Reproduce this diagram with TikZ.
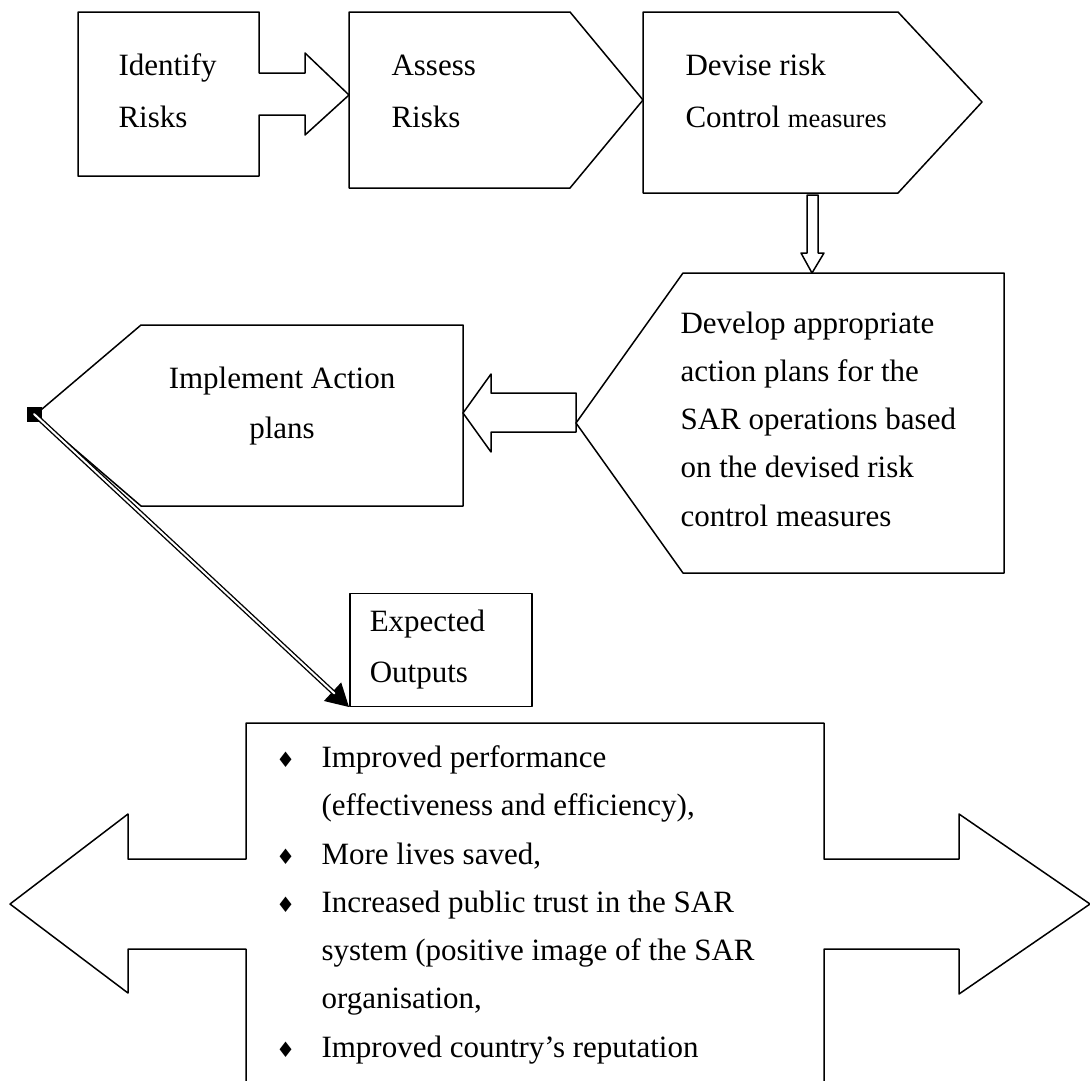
\documentclass[tikz,border=0pt]{standalone}
\usepackage{fontspec}
\setmainfont{Liberation Serif}
\newfontfamily\bulfont{DejaVu Sans}
\usepackage{tikz}
\usetikzlibrary{arrows.meta}
\newcommand{\bul}{\makebox[0pt][r]{{\bulfont\fontsize{8.5}{8.5}\selectfont ♦}\hspace{10.5pt}}}
\tikzset{
  blk/.style={line width=0.6pt},
  toptext/.style={anchor=base west,align=left,inner sep=0pt,font=\fontsize{12.4}{20.8}\selectfont},
  listtext/.style={anchor=base west,align=left,inner sep=0pt,font=\fontsize{12.4}{19.3}\selectfont},
  midtext/.style={anchor=base,align=center,inner sep=0pt,font=\fontsize{12.4}{20}\selectfont}
}

\begin{document}
\begin{tikzpicture}[line cap=round,line join=round,x=0.4pt,y=-0.4pt]
\clip(0,0) rectangle (1090,1080);
\draw [blk] (78,12) -- (259,12) -- (259,73) -- (305,73) -- (305,53) -- (349,95) -- (305,135) -- (305,115) -- (259,115) -- (259,176) -- (78,176) -- cycle;
\draw [blk] (349,12) -- (570,12) -- (643,100) -- (570,188) -- (349,188) -- cycle;
\draw [blk] (643,12) -- (898,12) -- (982,102) -- (898,193) -- (643,193) -- cycle;
\draw [blk] (807,195) -- (818,195) -- (818,253) -- (824,253) -- (812,273) -- (801,253) -- (807,253) -- cycle;
\draw [blk] (683,273) -- (1004,273) -- (1004,573) -- (683,573) -- (576,423) -- cycle;
\draw [blk] (576,393) -- (576,432) -- (491,432) -- (491,452) -- (463,413) -- (491,374) -- (491,393) -- cycle;
\draw [blk] (141,325) -- (463,325) -- (463,506) -- (141,506) -- (35,415) -- cycle;
\draw [blk] (246,723) -- (824,723) -- (824,859) -- (959,859) -- (959,814) -- (1090,904) -- (959,994) -- (959,949) -- (824,949) -- (824,1100) -- (246,1100) -- (246,949) -- (128,949) -- (128,993) -- (10,904) -- (128,814) -- (128,859) -- (246,859) -- cycle;
\node [toptext] (identify) at (118,127) {Identify\\Risks};
\node [toptext] (assess) at (391,127) {Assess\\Risks};
\node [toptext] (devise) at (685,127) {Devise risk\\Control {\fontsize{10.6}{20.8}\selectfont measures}};
\node [listtext] (develop) at (680,526) {Develop appropriate\\action plans for the\\SAR operations based\\on the devised risk\\control measures};
\node [midtext] (implement) at (282,438) {Implement Action\\plans};
\node [draw, blk, anchor=south west, inner xsep=8pt, inner ysep=0pt, text width=56.8pt, minimum height=45.2pt, align=left, font=\fontsize{12.4}{20.4}\selectfont] (expected) at (349,707) {Expected\\Outputs};
\node [listtext] (outputs) at (321,1057) {\bul Improved performance\\(effectiveness and efficiency),\\\bul More lives saved,\\\bul Increased public trust in the SAR\\system (positive image of the SAR\\organisation,\\\bul Improved country’s reputation};
\node [fill, minimum size=6pt, inner sep=0pt] (impltip) at (34,414) {};
\draw [line width=0.6pt, -{Triangle[length=9pt,width=10pt]}] (impltip.center) -- (expected.south west);
\draw [line width=0.55pt, double, double distance=0.8pt, shorten >=8pt] (impltip.center) -- (expected.south west);
\end{tikzpicture}
\end{document}
